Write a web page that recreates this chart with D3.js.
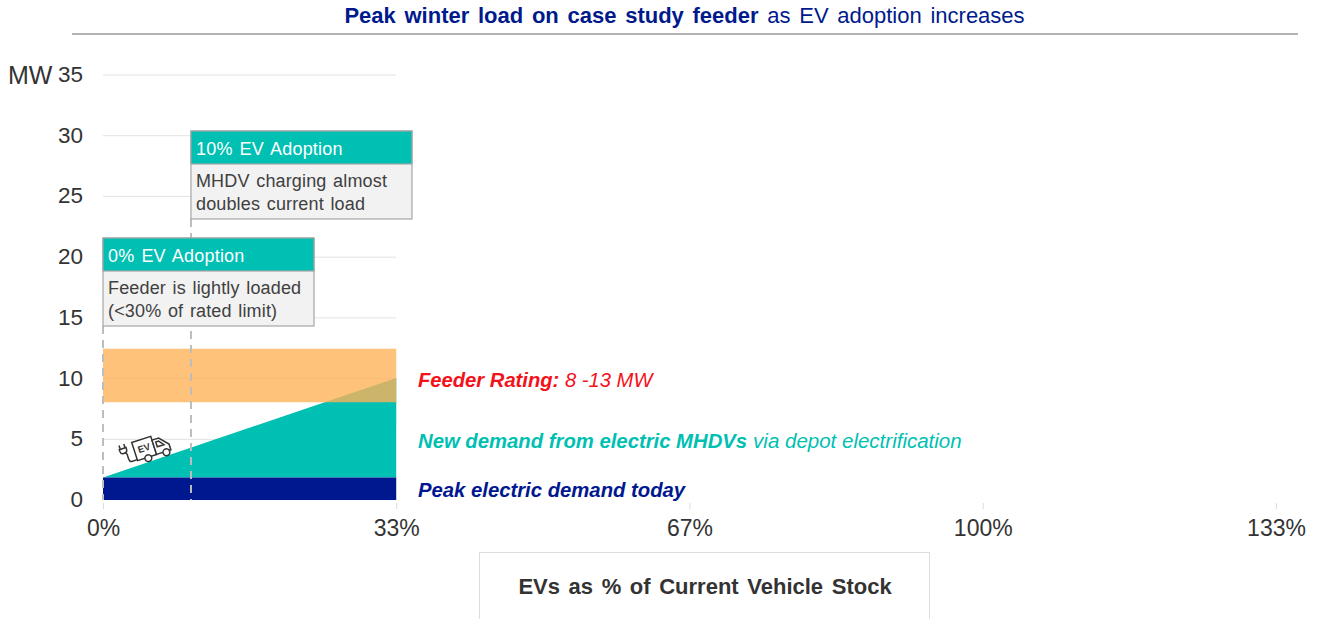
<!DOCTYPE html>
<html>
<head>
<meta charset="utf-8">
<script src="https://cdn.jsdelivr.net/npm/d3@7"></script>
<style>
  html, body { margin: 0; padding: 0; background: #fff; overflow: hidden; }
  text { font-family: "Liberation Sans", Arial, sans-serif; }
</style>
</head>
<body>
<div id="chart"></div>
<script>
const width = 1317
const height = 619

// data
const xTicks = [0, 33.33, 66.67, 100, 133.33]
const xTickLabels = ['0%', '33%', '67%', '100%', '133%']
const yTicks = [0, 5, 10, 15, 20, 25, 30, 35]
const adoption = [0, 33.33]
const peakToday = [1.85, 1.85]
const withMhdv = [1.85, 10.05]
const feederLow = [8.05, 8.05]
const feederHigh = [12.45, 12.45]
const markers = [0, 10]

const xScale = d3.scaleLinear().domain([0, 133.33]).range([103, 1276])
const yScale = d3.scaleLinear().domain([0, 35]).range([500, 75])

const svg = d3
  .select('#chart')
  .append('svg')
  .attr('width', width)
  .attr('height', height)
  .style('display', 'block')

// title

const title = svg
  .append('text')
  .attr('x', 684.5)
  .attr('y', 23)
  .attr('text-anchor', 'middle')
  .attr('font-size', 22)
  .attr('word-spacing', 2.6)
  .attr('fill', '#001a8c')

title.append('tspan').attr('font-weight', 'bold').text('Peak winter load on case study feeder')
title.append('tspan').text(' as EV adoption increases')

svg
  .append('line')
  .attr('x1', 72)
  .attr('x2', 1298)
  .attr('y1', 34)
  .attr('y2', 34)
  .attr('stroke', '#6b6b6b')
  .attr('stroke-width', 1.2)

// gridlines only run to the 33% tick

svg
  .append('g')
  .selectAll('line')
  .data(yTicks.slice(1))
  .enter()
  .append('line')
  .attr('x1', xScale(0))
  .attr('x2', xScale(33.33))
  .attr('y1', d => yScale(d))
  .attr('y2', d => yScale(d))
  .attr('stroke', '#e2e2e2')

// axes

const yAxis = d3.axisLeft(yScale).tickValues(yTicks).tickSize(0).tickPadding(0)
const yGroup = svg.append('g').attr('transform', 'translate(83,-0.7)').call(yAxis)
yGroup.select('.domain').remove()
yGroup.selectAll('text')
  .attr('font-size', 22.5)
  .attr('fill', '#333')
  .attr('font-family', '"Liberation Sans", Arial, sans-serif')

svg
  .append('text')
  .attr('x', 8)
  .attr('y', 84)
  .attr('font-size', 25)
  .attr('fill', '#333')
  .text('MW')

const xAxis = d3
  .axisBottom(xScale)
  .tickValues(xTicks)
  .tickFormat((d, i) => xTickLabels[i])
  .tickSize(6)
  .tickPadding(11)
const xGroup = svg.append('g').attr('transform', 'translate(0,503)').call(xAxis)
xGroup.select('.domain').remove()
xGroup.selectAll('line').attr('stroke', '#dcdcdc')
xGroup.selectAll('text')
  .attr('font-size', 23)
  .attr('fill', '#333')
  .attr('font-family', '"Liberation Sans", Arial, sans-serif')

// areas

const rows = adoption.map((d, i) => ({
  x: d,
  today: peakToday[i],
  mhdv: withMhdv[i],
  low: feederLow[i],
  high: feederHigh[i]
}))

const area = (y0, y1) =>
  d3.area().x(d => xScale(d.x)).y0(d => yScale(y0(d))).y1(d => yScale(y1(d)))

svg.append('path').attr('d', area(d => d.today, d => d.mhdv)(rows)).attr('fill', '#00bfb3')
svg.append('path').attr('d', area(() => 0, d => d.today)(rows)).attr('fill', '#00188f')
svg.append('path').attr('d', area(d => d.low, d => d.high)(rows)).attr('fill', '#ffb359').attr('opacity', 0.8)

// dashed markers

svg
  .append('g')
  .selectAll('line')
  .data(markers)
  .enter()
  .append('line')
  .attr('x1', d => xScale(d))
  .attr('x2', d => xScale(d))
  .attr('y1', d => (d === 0 ? 326 : 219))
  .attr('y2', yScale(0))
  .attr('stroke', '#bdbdbd')
  .attr('stroke-width', 2)
  .attr('stroke-dasharray', '8 6')

// callouts

function callout(x0, top, boxWidth, head, lines) {
  const g = svg.append('g').attr('transform', 'translate(' + x0 + ',' + top + ')')
  g.append('rect')
    .attr('width', boxWidth)
    .attr('height', 88)
    .attr('fill', '#f2f2f2')
    .attr('stroke', '#a6a6a6')
    .attr('stroke-width', 1.2)
  g.append('rect')
    .attr('width', boxWidth)
    .attr('height', 33)
    .attr('fill', '#00bfb3')
    .attr('stroke', '#a6a6a6')
    .attr('stroke-width', 1.2)
  g.append('text')
    .attr('x', 5)
    .attr('y', 24)
    .attr('font-size', 18)
    .attr('word-spacing', 1.8)
    .attr('letter-spacing', 0.2)
    .attr('fill', '#fff')
    .text(head)
  lines.forEach((line, i) => {
    g.append('text')
      .attr('x', 5)
      .attr('y', 56 + i * 22.5)
      .attr('font-size', 18)
      .attr('word-spacing', 1.5)
      .attr('letter-spacing', 0.15)
      .attr('fill', '#404040')
      .text(line)
  })
}

callout(xScale(10), 131, 221, '10% EV Adoption', ['MHDV charging almost', 'doubles current load'])
callout(xScale(0), 238, 211, '0% EV Adoption', ['Feeder is lightly loaded', '(<30% of rated limit)'])

// direct labels

const feederLabel = svg
  .append('text')
  .attr('x', 418)
  .attr('y', 387)
  .attr('font-size', 20.2)
  .attr('font-style', 'italic')
  .attr('fill', '#f5111a')
feederLabel.append('tspan').attr('font-weight', 'bold').text('Feeder Rating:')
feederLabel.append('tspan').text(' 8 -13 MW')

const mhdvLabel = svg
  .append('text')
  .attr('x', 418)
  .attr('y', 448)
  .attr('font-size', 20.3)
  .attr('font-style', 'italic')
  .attr('fill', '#00bfb3')
mhdvLabel.append('tspan').attr('font-weight', 'bold').text('New demand from electric MHDVs')
mhdvLabel.append('tspan').attr('dx', 6).attr('font-size', 20.5).text('via depot electrification')

svg
  .append('text')
  .attr('x', 418)
  .attr('y', 497)
  .attr('font-size', 20.3)
  .attr('font-style', 'italic')
  .attr('font-weight', 'bold')
  .attr('fill', '#00188f')
  .text('Peak electric demand today')

// x axis title box

svg
  .append('rect')
  .attr('x', 479.5)
  .attr('y', 552.5)
  .attr('width', 450)
  .attr('height', 80)
  .attr('fill', '#fff')
  .attr('stroke', '#dedede')

svg
  .append('text')
  .attr('x', 705)
  .attr('y', 594)
  .attr('text-anchor', 'middle')
  .attr('font-size', 22)
  .attr('font-weight', 'bold')
  .attr('word-spacing', 2.5)
  .attr('fill', '#333')
  .text('EVs as % of Current Vehicle Stock')

// little EV truck climbing the slope

const truck = svg
  .append('g')
  .attr('transform', 'translate(144,448) rotate(-18)')
  .attr('fill', 'none')
  .attr('stroke', '#333')
  .attr('stroke-width', 1.5)

truck.append('rect').attr('x', -10).attr('y', -9).attr('width', 20).attr('height', 19).attr('fill', '#fff')
truck.append('path').attr('d', 'M10,-5 H17 L25,4 V10 H10 Z').attr('fill', '#fff')
truck.append('path').attr('d', 'M13,-2 H16 L20,3 H13 Z')
truck.append('circle').attr('cx', 1).attr('cy', 11).attr('r', 3.4).attr('fill', '#fff')
truck.append('circle').attr('cx', 20).attr('cy', 11).attr('r', 3.4).attr('fill', '#fff')
truck.append('path').attr('d', 'M-10,9 H-15 Q-18,9 -18,6 V1 Q-18,-1 -20,-1')
truck.append('path').attr('d', 'M-24,-6 V-4 Q-24,-1 -21,-1 Q-17,-1 -17,-4 V-6 Z M-23,-6 V-10 M-18,-6 V-10')

truck
  .append('text')
  .attr('x', 0)
  .attr('y', 3.5)
  .attr('text-anchor', 'middle')
  .attr('font-size', 9.5)
  .attr('font-weight', 'bold')
  .attr('fill', '#333')
  .attr('stroke', 'none')
  .text('EV')
</script>
</body>
</html>
